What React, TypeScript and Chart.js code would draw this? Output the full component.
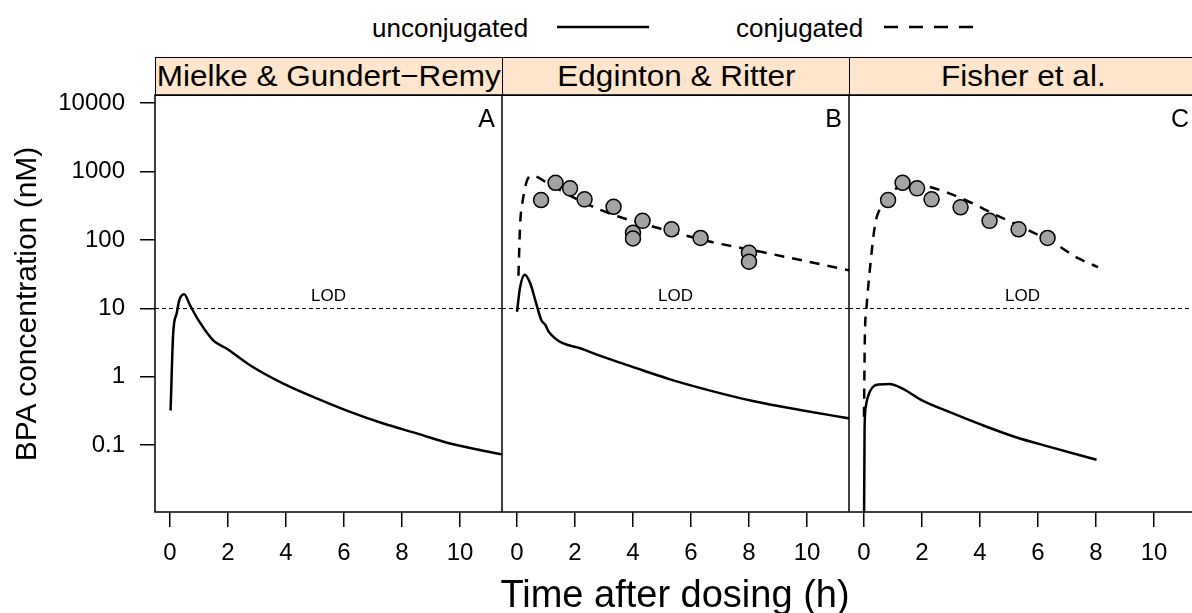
import React, { useEffect, useRef } from 'react';
import { Chart, registerables } from 'chart.js';

Chart.register(...registerables);
Chart.defaults.font.family = '"Liberation Sans", Arial, sans-serif';

// ---------- data ----------
const panelTitles = ['Mielke & Gundert\u2212Remy', 'Edginton & Ritter', 'Fisher et al.'];
const panelLetters = ['A', 'B', 'C'];
const xTicks = [0, 2, 4, 6, 8, 10];
const yTicks = [0.1, 1, 10, 100, 1000, 10000];
const LOD = 10;
const legendLabels = ['unconjugated', 'conjugated'];
const xTitle = 'Time after dosing (h)';
const yTitle = 'BPA concentration (nM)';

// Panel A (Mielke & Gundert-Remy)
const timeUnconjA = [0.02, 0.11, 0.23, 0.32, 0.49, 0.69, 0.98, 1.49, 2.0, 2.76, 3.91, 5.06, 6.21, 7.36, 8.51, 9.66, 11.44];
const unconjA = [0.32, 4.3, 8.4, 13.2, 16.1, 11.1, 6.7, 3.4, 2.5, 1.47, 0.79, 0.48, 0.305, 0.206, 0.148, 0.105, 0.073];

// Panel B (Edginton & Ritter)
const timeUnconjB = [0.0, 0.11, 0.27, 0.46, 0.63, 0.84, 0.98, 1.1, 2.36, 3.63, 4.33, 5.25, 6.63, 8.13, 9.86, 11.48];
const unconjB = [8.9, 20.6, 31, 23, 13.2, 6.7, 5.7, 4.5, 2.44, 1.56, 1.24, 0.92, 0.63, 0.44, 0.32, 0.244];
const timeConjB = [0.05, 0.11, 0.2, 0.35, 0.52, 1.1, 1.79, 2.83, 3.52, 4.9, 6.68, 8.41, 11.45];
const conjB = [30, 174, 380, 750, 870, 656, 453, 280, 218, 148, 94, 67, 36];
const timeObsB = [0.83, 1.33, 1.83, 2.33, 3.33, 4.0, 4.0, 4.33, 5.33, 6.33, 8.0, 8.0];
const obsB = [383, 685, 568, 392, 305, 127, 105, 190, 143, 107, 65, 48];

// Panel C (Fisher et al.)
const timeUnconjC = [0.0, 0.02, 0.06, 0.2, 0.52, 0.87, 1.33, 2.0, 2.94, 4.09, 5.24, 6.4, 8.02];
const unconjC = [0.005, 0.165, 0.36, 0.6, 0.77, 0.78, 0.67, 0.45, 0.305, 0.195, 0.13, 0.094, 0.061];
const timeConjC = [0.0, 0.03, 0.08, 0.2, 0.38, 0.58, 0.84, 1.2, 1.6, 2.13, 2.94, 3.75, 4.44, 5.13, 6.57, 7.38, 8.07];
const conjC = [0.26, 3.8, 9.4, 36, 165, 305, 428, 600, 640, 613, 480, 342, 244, 178, 89, 54, 40];
const timeObsC = [0.83, 1.33, 1.83, 2.33, 3.33, 4.33, 5.33, 6.33];
const obsC = [383, 685, 568, 392, 300, 190, 143, 107];

// ---------- layout ----------
const W = 1192;
const H = 613;
const PANEL_W = 347;
const PANEL_LEFT = 155;
const PLOT_TOP = 95;
const PLOT_BOTTOM = 512;
const STRIP_TOP = 57;
const CANVAS_TOP = 80;
const Y_AXIS_W = 155;
const X_MIN = -0.517;
const X_MAX = 11.449;
const Y_MIN = Math.pow(10, -1.98);
const Y_MAX = Math.pow(10, 4.12);

const zip = (t: number[], v: number[]) => t.map((x, i) => ({ x, y: v[i] }));

const panelSeries = [
  { unconj: zip(timeUnconjA, unconjA), conj: null, obs: null },
  { unconj: zip(timeUnconjB, unconjB), conj: zip(timeConjB, conjB), obs: zip(timeObsB, obsB) },
  { unconj: zip(timeUnconjC, unconjC), conj: zip(timeConjC, conjC), obs: zip(timeObsC, obsC) },
];

const decoPlugin = {
  id: 'panelDeco',
  beforeDatasetsDraw(chart: any) {
    const { ctx, chartArea } = chart;
    const y = Math.round(chart.scales.y.getPixelForValue(LOD)) + 0.5;
    ctx.save();
    ctx.strokeStyle = '#000';
    ctx.lineWidth = 1;
    ctx.setLineDash([4, 3]);
    ctx.beginPath();
    ctx.moveTo(chartArea.left, y);
    ctx.lineTo(chartArea.right, y);
    ctx.stroke();
    ctx.setLineDash([]);
    ctx.fillStyle = '#000';
    ctx.font = '17px "Liberation Sans", Arial, sans-serif';
    ctx.textAlign = 'center';
    ctx.textBaseline = 'alphabetic';
    ctx.fillText('LOD', (chartArea.left + chartArea.right) / 2, y - 8);
    ctx.restore();
  },
  afterDraw(chart: any, _args: any, opts: any) {
    const { ctx, chartArea } = chart;
    ctx.save();
    ctx.strokeStyle = '#000';
    ctx.lineWidth = 1.5;
    ctx.strokeRect(chartArea.left, chartArea.top, chartArea.right - chartArea.left, chartArea.bottom - chartArea.top);
    ctx.fillStyle = '#000';
    ctx.font = '25px "Liberation Sans", Arial, sans-serif';
    ctx.textAlign = 'right';
    ctx.textBaseline = 'alphabetic';
    ctx.fillText(opts.letter, chartArea.right - 7, chartArea.top + 32);
    ctx.restore();
  },
};

function Panel({ idx }: { idx: number }) {
  const ref = useRef<HTMLCanvasElement>(null);
  const showY = idx === 0;
  const canvasLeft = showY ? 0 : PANEL_LEFT + idx * PANEL_W;
  const canvasW = showY ? Y_AXIS_W + PANEL_W : PANEL_W;
  const canvasH = H - CANVAS_TOP;

  useEffect(() => {
    const s = panelSeries[idx];
    const datasets: any[] = [];
    if (s.obs) {
      datasets.push({
        data: s.obs,
        showLine: false,
        pointRadius: 7.5,
        pointBackgroundColor: '#a3a3a3',
        pointBorderColor: '#000',
        pointBorderWidth: 1.5,
        order: 0,
      });
    }
    if (s.conj) {
      datasets.push({
        data: s.conj,
        borderColor: '#000',
        borderWidth: 2.5,
        borderDash: [10, 8],
        pointRadius: 0,
        cubicInterpolationMode: 'monotone',
        fill: false,
        order: 1,
      });
    }
    datasets.push({
      data: s.unconj,
      borderColor: '#000',
      borderWidth: 2.5,
      pointRadius: 0,
      cubicInterpolationMode: 'monotone',
      fill: false,
      order: 2,
    });

    const chart = new Chart(ref.current as HTMLCanvasElement, {
      type: 'line',
      data: { datasets },
      plugins: [decoPlugin],
      options: {
        animation: false,
        responsive: false,
        maintainAspectRatio: false,
        layout: { autoPadding: false, padding: { top: PLOT_TOP - CANVAS_TOP, left: 0, right: 0, bottom: 0 } },
        plugins: {
          legend: { display: false },
          tooltip: { enabled: false },
          panelDeco: { letter: panelLetters[idx] },
        } as any,
        scales: {
          x: {
            type: 'linear',
            min: X_MIN,
            max: X_MAX,
            afterBuildTicks: (sc: any) => {
              sc.ticks = xTicks.map((v) => ({ value: v }));
            },
            afterFit: (sc: any) => {
              sc.height = H - PLOT_BOTTOM;
              sc.paddingLeft = 0;
              sc.paddingRight = 0;
            },
            grid: { drawOnChartArea: false, drawTicks: true, tickLength: 15, color: '#000', lineWidth: 1.5 },
            border: { display: false },
            ticks: { color: '#000', font: { size: 24 }, padding: 12, maxRotation: 0, autoSkip: false },
          },
          y: {
            type: 'logarithmic',
            display: showY,
            min: Y_MIN,
            max: Y_MAX,
            afterBuildTicks: (sc: any) => {
              sc.ticks = yTicks.map((v) => ({ value: v }));
            },
            afterFit: (sc: any) => {
              sc.width = showY ? Y_AXIS_W : 0;
              sc.paddingTop = 0;
              sc.paddingBottom = 0;
            },
            grid: { drawOnChartArea: false, drawTicks: true, tickLength: 15, color: '#000', lineWidth: 1.5 },
            border: { display: false },
            ticks: {
              color: '#000',
              font: { size: 24 },
              padding: 15,
              autoSkip: false,
              callback: (v: any) => String(v),
            },
          },
        },
      } as any,
    });
    return () => chart.destroy();
  }, [idx]);

  return (
    <canvas
      ref={ref}
      width={canvasW}
      height={canvasH}
      style={{ position: 'absolute', left: canvasLeft, top: CANVAS_TOP, width: canvasW, height: canvasH }}
    />
  );
}

export default function App() {
  const font = '"Liberation Sans", Arial, sans-serif';
  return (
    <div
      style={{
        position: 'absolute',
        left: 0,
        top: 0,
        width: W,
        height: H,
        overflow: 'hidden',
        background: '#fff',
        fontFamily: font,
        color: '#000',
      }}
    >
      {/* legend */}
      <div style={{ position: 'absolute', left: 372, top: 15, fontSize: 26, lineHeight: '26px', whiteSpace: 'nowrap' }}>
        {legendLabels[0]}
      </div>
      <div style={{ position: 'absolute', left: 736, top: 15, fontSize: 26, lineHeight: '26px', whiteSpace: 'nowrap' }}>
        {legendLabels[1]}
      </div>
      <svg style={{ position: 'absolute', left: 0, top: 0 }} width={W} height={50}>
        <line x1={557} y1={27} x2={649} y2={27} stroke="#000" strokeWidth={2.5} />
        <line x1={884} y1={27} x2={976} y2={27} stroke="#000" strokeWidth={2.5} strokeDasharray="14 11" />
      </svg>

      {/* strips */}
      {panelTitles.map((t, i) => (
        <div
          key={t}
          style={{
            position: 'absolute',
            left: PANEL_LEFT + i * PANEL_W,
            top: STRIP_TOP,
            width: PANEL_W + 1,
            height: PLOT_TOP - STRIP_TOP + 1,
            boxSizing: 'border-box',
            background: '#FFE5CC',
            border: '1.5px solid #000',
            textAlign: 'center',
            fontSize: 30,
            lineHeight: '35px',
            whiteSpace: 'nowrap',
            overflow: 'hidden',
          }}
        >
          <span style={{ display: 'inline-block', transform: 'scaleX(1.05)' }}>{t}</span>
        </div>
      ))}

      {[0, 1, 2].map((i) => (
        <Panel key={i} idx={i} />
      ))}

      {/* axis titles */}
      <div
        style={{
          position: 'absolute',
          left: 26 - 200,
          top: 304 - 18,
          width: 400,
          height: 36,
          lineHeight: '36px',
          fontSize: 30,
          textAlign: 'center',
          whiteSpace: 'nowrap',
          transform: 'rotate(-90deg)',
        }}
      >
        {yTitle}
      </div>
      <div
        style={{
          position: 'absolute',
          left: 675 - 300,
          top: 572,
          width: 600,
          height: 44,
          lineHeight: '44px',
          fontSize: 38,
          textAlign: 'center',
          whiteSpace: 'nowrap',
        }}
      >
        {xTitle}
      </div>
    </div>
  );
}
